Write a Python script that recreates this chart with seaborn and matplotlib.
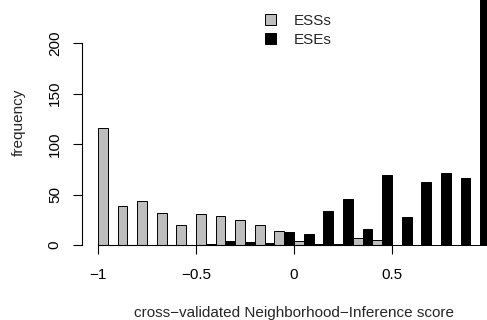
import numpy as np
import pandas as pd
import matplotlib
matplotlib.use("Agg")
import matplotlib.pyplot as plt
import seaborn as sns
from matplotlib.patches import Patch

bin_centers = [-0.95, -0.85, -0.75, -0.65, -0.55, -0.45, -0.35, -0.25, -0.15, -0.05,
               0.05, 0.15, 0.25, 0.35, 0.45, 0.55, 0.65, 0.75, 0.85, 0.95]
ess_counts = [116, 39, 44, 32, 20, 31, 29, 25, 20, 14, 4, 1, 1, 7, 5, 0, 0, 0, 0, 0]
ese_counts = [0, 0, 0, 0, 0, 1, 4, 3, 2, 13, 11, 34, 46, 16, 69, 28, 62, 71, 66, 260]
series_names = ["ESSs", "ESEs"]
x_ticks = [-1, -0.5, 0, 0.5]
x_ticklabels = ["\u22121", "\u22120.5", "0", "0.5"]
y_ticks = [0, 50, 100, 150, 200]

df = pd.DataFrame({
    "bin": bin_centers * 2,
    "count": ess_counts + ese_counts,
    "type": [series_names[0]] * len(bin_centers) + [series_names[1]] * len(bin_centers),
})

sns.set_style("white")
plt.rcParams["font.family"] = ["Liberation Sans", "DejaVu Sans"]

W, H = 487, 320
fig = plt.figure(figsize=(W / 100, H / 100), dpi=100)
left_px, right_px, top_px, bottom_px = 82, 487, 0, 246
aw, ah = right_px - left_px, bottom_px - top_px
ax = fig.add_axes([left_px / W, 1 - bottom_px / H, aw / W, ah / H])

colors = {"ESSs": "#BEBEBE", "ESEs": "black"}
sns.barplot(data=df, x="bin", y="count", hue="type", hue_order=series_names,
            palette=colors, native_scale=True, width=1.0, dodge=True,
            edgecolor="black", linewidth=0.7, ax=ax, legend=False, errorbar=None)

px_per_x = 196.0
px_per_y = 1.0085
ax.set_xlim(-1 - (98 - left_px) / px_per_x, -1 + (right_px - 98) / px_per_x)
ax.set_ylim(-(bottom_px - 245) / px_per_y, (245 - top_px) / px_per_y)

for s in ["top", "right"]:
    ax.spines[s].set_visible(False)
ax.spines["left"].set_bounds(0, 200)
ax.spines["bottom"].set_position(("data", 0))
ax.spines["bottom"].set_bounds(-1, 0.5)
for s in ["left", "bottom"]:
    ax.spines[s].set_linewidth(0.8)
    ax.spines[s].set_color("black")

FS = 11
ax.set_xticks(x_ticks)
ax.set_xticklabels(x_ticklabels)
ax.set_yticks(y_ticks)
ax.set_yticklabels([str(v) for v in y_ticks], rotation=90, va="center")
ax.tick_params(axis="both", direction="out", length=6.5, width=0.8, colors="black",
               labelsize=FS, bottom=True, left=True)
ax.tick_params(axis="x", pad=10)
ax.tick_params(axis="y", pad=8)

ax.set_xlabel("cross\u2212validated Neighborhood\u2212Inference score", fontsize=FS)
ax.set_ylabel("frequency", fontsize=FS)
ax.xaxis.set_label_coords((294 - left_px) / aw, -(306 - bottom_px) / ah)
ax.yaxis.set_label_coords(-(82 - 26) / aw, (bottom_px - 122) / ah)

handles = [Patch(facecolor=colors[n], edgecolor="black", linewidth=0.7, label=n) for n in series_names]
leg = ax.legend(handles=handles, loc="upper left", frameon=False, fontsize=FS,
                bbox_to_anchor=((265 - left_px) / aw, 1 - (14 - top_px) / ah),
                handlelength=0.75, handleheight=0.75, handletextpad=1.1, labelspacing=0.3,
                borderpad=0, borderaxespad=0)

fig.savefig("out.png", dpi=100)
